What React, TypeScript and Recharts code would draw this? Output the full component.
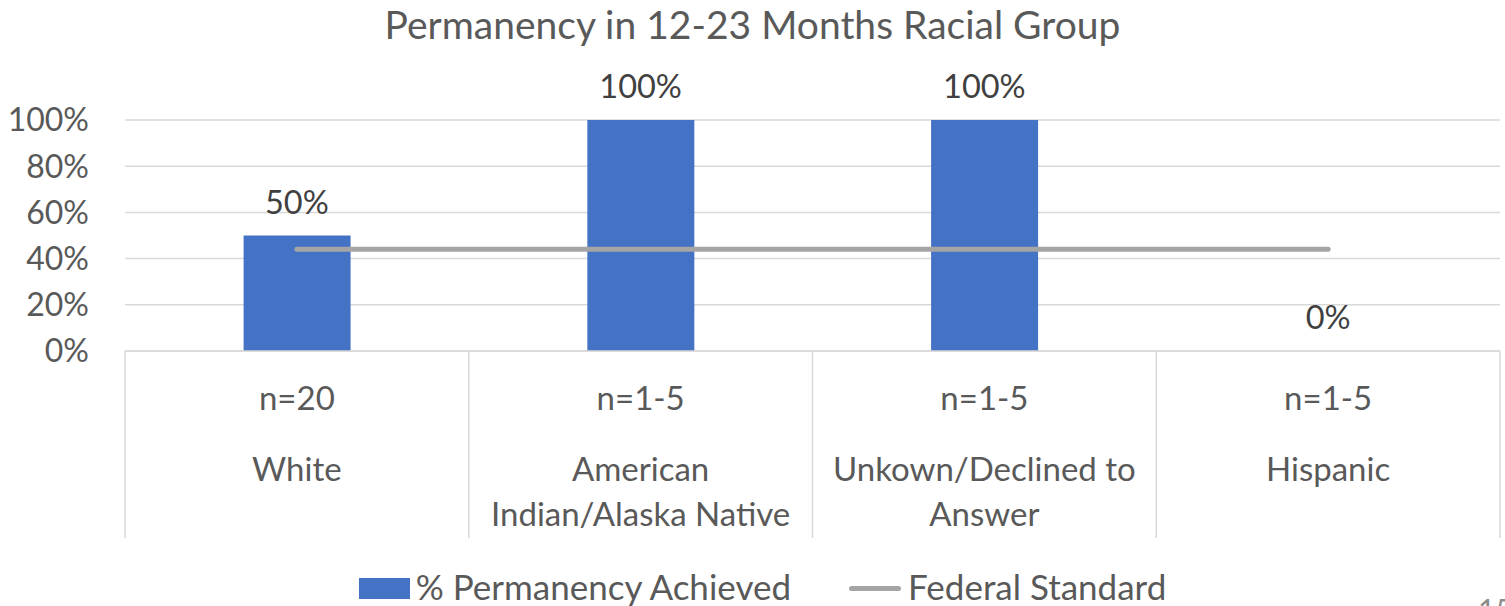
import { ComposedChart, Bar, Line, XAxis, YAxis, CartesianGrid, Legend, LabelList } from 'recharts'

const categories = ['White', 'American Indian/Alaska Native', 'Unkown/Declined to Answer', 'Hispanic']
const categoryLines = [['White'], ['American', 'Indian/Alaska Native'], ['Unkown/Declined to', 'Answer'], ['Hispanic']]
const sampleSizes = ['n=20', 'n=1-5', 'n=1-5', 'n=1-5']
const permanency = [0.5, 1, 1, 0]
const federalStandard = [0.44, 0.44, 0.44, 0.44]
const yTicks = [0, 0.2, 0.4, 0.6, 0.8, 1]

const FONT = 'Lato, "Noto Sans", sans-serif'
const AXIS_H = 187

const data = categories.map((c, i) => ({ category: c, idx: i, permanency: permanency[i], federal: federalStandard[i] }))

const pct = (v: number) => `${Math.round(v * 100)}%`

function XTick(props: any) {
  const { x, y, payload } = props
  const i = payload.index
  const half = payload.offset || 172
  const lines = categoryLines[i] || [payload.value]
  return (
    <g>
      <line x1={x - half} y1={y} x2={x - half} y2={y + AXIS_H} stroke="#D9D9D9" strokeWidth={1.5} />
      {i === categories.length - 1 && <line x1={x + half} y1={y} x2={x + half} y2={y + AXIS_H} stroke="#D9D9D9" strokeWidth={1.5} />}
      <text x={x} y={y + 59} textAnchor="middle" fill="#595959" fontSize={33} fontFamily={FONT}>{sampleSizes[i]}</text>
      {lines.map((l, k) => (
        <text key={k} x={x} y={y + 130 + k * 45} textAnchor="middle" fill="#595959" fontSize={33} fontFamily={FONT}>{l}</text>
      ))}
    </g>
  )
}

function ValueLabel(props: any) {
  const { x, y, value } = props
  return (
    <text x={x} y={y - 22} textAnchor="middle" fill="#404040" fontSize={32.5} fontFamily={FONT}>{pct(value)}</text>
  )
}

function LegendContent() {
  return (
    <div style={{ display: 'flex', justifyContent: 'center', alignItems: 'center', paddingLeft: 20, fontFamily: FONT, fontSize: 35, color: '#595959' }}>
      <span style={{ display: 'inline-block', width: 51, height: 21, background: '#4472C4', marginRight: 6, marginTop: 4 }} />
      <span>% Permanency Achieved</span>
      <span style={{ display: 'inline-block', width: 52, height: 5, borderRadius: 3, background: '#A5A5A5', marginLeft: 58, marginRight: 7, marginTop: 4 }} />
      <span>Federal Standard</span>
    </div>
  )
}

export default function App() {
  return (
    <div style={{ position: 'absolute', left: 0, top: 0, width: 1505, height: 606, overflow: 'hidden', background: '#fff' }}>
      <div style={{ position: 'absolute', left: 0, top: 1, width: 1505, textAlign: 'center', fontFamily: FONT, fontSize: 39, color: '#595959' }}>
        Permanency in 12-23 Months Racial Group
      </div>
      <ComposedChart width={1505} height={606} data={data} margin={{ top: 120, right: 5, left: 0, bottom: 68 }} barCategoryGap="34.5%">
        <CartesianGrid horizontal vertical={false} stroke="#D9D9D9" strokeWidth={1.5} />
        <XAxis dataKey="category" height={AXIS_H} interval={0} tickLine={false} tickSize={0} tickMargin={0} axisLine={{ stroke: '#D9D9D9', strokeWidth: 1.5 }} tick={<XTick />} />
        <YAxis width={125} domain={[0, 1]} ticks={yTicks} tickFormatter={pct} axisLine={false} tickLine={false} tickMargin={30} tick={{ fill: '#595959', fontSize: 32, fontFamily: FONT }} />
        <Bar dataKey="permanency" fill="#4472C4" isAnimationActive={false} />
        <Line dataKey="federal" type="linear" stroke="#A5A5A5" strokeWidth={5} strokeLinecap="round" dot={false} activeDot={false} isAnimationActive={false} legendType="none" />
        <Line dataKey="permanency" stroke="none" dot={false} activeDot={false} isAnimationActive={false} legendType="none">
          <LabelList dataKey="permanency" content={<ValueLabel />} />
        </Line>
        <Legend verticalAlign="middle" align="center" layout="horizontal" wrapperStyle={{ top: 565, left: 0, width: 1505 }} content={<LegendContent />} />
      </ComposedChart>
      <div style={{ position: 'absolute', left: 1478, top: 594, fontFamily: FONT, fontSize: 30, lineHeight: 1, color: '#8c8c8c' }}>15</div>
    </div>
  )
}
